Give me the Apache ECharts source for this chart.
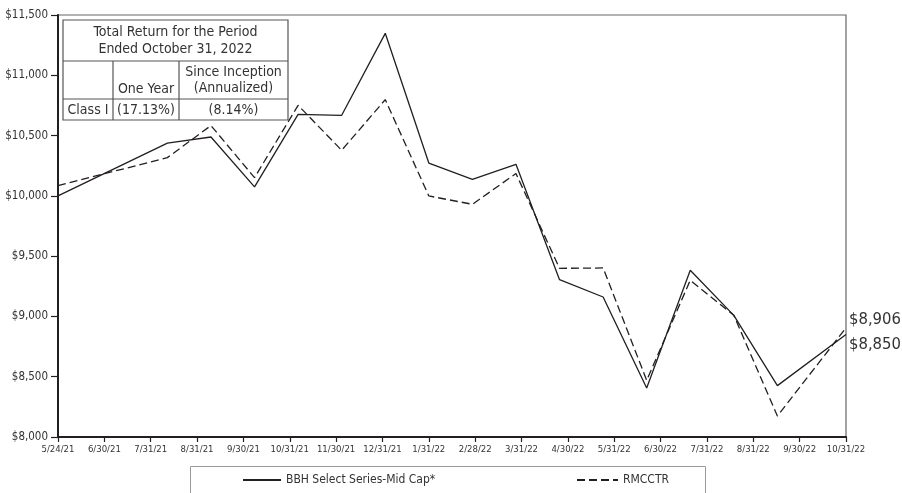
<!DOCTYPE html>
<html>
<head>
<meta charset="utf-8">
<script src="https://cdn.jsdelivr.net/npm/echarts@6/dist/echarts.min.js"></script>
<style>
html,body{margin:0;padding:0;background:#fff;}
#c{width:902px;height:493px;}
</style>
</head>
<body>
<div id="c"></div>
<script>
// Tick labels along the horizontal axis (evenly spaced periods)
var tickLabels = ['5/24/21','6/30/21','7/31/21','8/31/21','9/30/21','10/31/21','11/30/21','12/31/21','1/31/22','2/28/22','3/31/22','4/30/22','5/31/22','6/30/22','7/31/22','8/31/22','9/30/22','10/31/22'];
// Positions of the valuation points on the period scale
var pointPos = [0, 2.36, 3.30, 4.24, 5.18, 6.12, 7.06, 8.00, 8.94, 9.88, 10.82, 11.76, 12.70, 13.64, 14.58, 15.52, 17];
// Growth of $10,000
var fundValues  = [10000, 10438, 10488, 10075, 10676, 10668, 11348, 10272, 10137, 10262, 9305, 9161, 8406, 9383, 9009, 8426, 8850];
var indexValues = [10085, 10317, 10583, 10151, 10751, 10378, 10798, 9999, 9930, 10185, 9399, 9402, 8470, 9300, 9009, 8174, 8906];
var seriesNames = ['BBH Select Series-Mid Cap*', 'RMCCTR'];
// Table contents
var tableTitle = ['Total Return for the Period', 'Ended October 31, 2022'];
var colHeads = ['One Year', ['Since Inception', '(Annualized)']];
var rowLabel = 'Class I';
var rowValues = ['(17.13%)', '(8.14%)'];

var FONT = "'Liberation Sans Narrow', 'DejaVu Sans Condensed', 'Roboto Condensed', sans-serif";
var INK = '#231f20';

function pairs(xs, ys){ return xs.map(function(x,i){ return [x, ys[i]]; }); }
function money(v){ return '$' + v.toString().replace(/\B(?=(\d{3})+(?!\d))/g, ','); }

var chart = echarts.init(document.getElementById('c'), null, {renderer:'canvas'});

var tL = 63, tT = 20, tW = 225, tH = 100, r1 = 61, r2 = 99, c1 = 113, c2 = 179;
var tStroke = {stroke:'#555', lineWidth:1.2};
var tText = {fill:'#333', font:'14px ' + FONT, textAlign:'center', textVerticalAlign:'middle'};
function txt(x,y,s){ return {type:'text', x:x, y:y, style:Object.assign({text:s}, tText), z:10}; }
function ln(x1,y1,x2,y2){ return {type:'line', shape:{x1:x1,y1:y1,x2:x2,y2:y2}, style:tStroke, z:10}; }

var legendCommon = {top:474, padding:0, itemHeight:14, itemGap:0,
  itemStyle:{opacity:0},
  textStyle:{color:'#333', fontFamily:FONT, fontSize:12}};

var option = {
  animation:false,
  backgroundColor:'#fff',
  grid:{left:58, right:56, top:15, bottom:56, show:true, borderColor:'#666', borderWidth:1.2},
  xAxis:{
    type:'value', min:0, max:17, interval:1,
    axisLine:{onZero:false, lineStyle:{color:INK, width:2}},
    axisTick:{show:true, length:5, lineStyle:{color:INK, width:1.2}},
    axisLabel:{color:'#333', fontFamily:FONT, fontSize:9.5, margin:8,
      formatter:function(v){ return tickLabels[Math.round(v)] || ''; }},
    splitLine:{show:false}
  },
  yAxis:{
    type:'value', min:8000, max:11500, interval:500,
    axisLine:{show:true, lineStyle:{color:INK, width:2}},
    axisTick:{show:true, length:7, lineStyle:{color:INK, width:1.2}},
    axisLabel:{color:'#333', fontFamily:FONT, fontSize:11.5, margin:10, formatter:money},
    splitLine:{show:false}
  },
  legend:[
    Object.assign({data:[seriesNames[0]], left:242, itemWidth:38}, legendCommon),
    Object.assign({data:[seriesNames[1]], left:576, itemWidth:41}, legendCommon)
  ],
  series:[
    {name:seriesNames[0], type:'line', data:pairs(pointPos, fundValues), symbol:'none',
     lineStyle:{color:INK, width:1.3, type:'solid'}, itemStyle:{color:INK},
     endLabel:{show:true, distance:3, offset:[0,10], color:'#333', fontFamily:FONT, fontSize:16.5,
       formatter:function(p){ return money(p.value[1]); }}},
    {name:seriesNames[1], type:'line', data:pairs(pointPos, indexValues), symbol:'none',
     lineStyle:{color:INK, width:1.3, type:[8,4]}, itemStyle:{color:INK},
     endLabel:{show:true, distance:3, offset:[0,-8], color:'#333', fontFamily:FONT, fontSize:16.5,
       formatter:function(p){ return money(p.value[1]); }}}
  ],
  graphic:[
    {type:'rect', shape:{x:tL, y:tT, width:tW, height:tH}, style:{fill:'#fff', stroke:'#555', lineWidth:1.2}, z:9},
    ln(tL, r1, tL+tW, r1),
    ln(tL, r2, tL+tW, r2),
    ln(c1, r1, c1, tT+tH),
    ln(c2, r1, c2, tT+tH),
    txt((tL+tL+tW)/2, 32, tableTitle[0]),
    txt((tL+tL+tW)/2, 49, tableTitle[1]),
    txt((c1+c2)/2, 89, colHeads[0]),
    txt((c2+tL+tW)/2, 72, colHeads[1][0]),
    txt((c2+tL+tW)/2, 88, colHeads[1][1]),
    txt((tL+c1)/2, 110, rowLabel),
    txt((c1+c2)/2, 110, rowValues[0]),
    txt((c2+tL+tW)/2, 110, rowValues[1]),
    {type:'rect', shape:{x:190.5, y:466.5, width:515, height:40}, style:{fill:'none', stroke:'#999', lineWidth:1}, z:1}
  ]
};
chart.setOption(option);
</script>
</body>
</html>
